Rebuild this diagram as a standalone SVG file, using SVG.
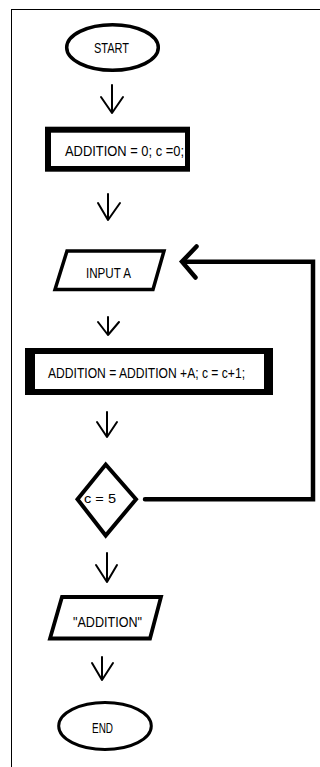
<svg xmlns="http://www.w3.org/2000/svg" width="320" height="767" viewBox="0 0 320 767">
<style>
.t{font-family:"Liberation Sans",Arial,sans-serif;font-size:15px;fill:#000}
.s{fill:#fff;stroke:#000;stroke-linejoin:miter}
.a{fill:none;stroke:#000;stroke-width:2;stroke-linecap:round;stroke-linejoin:round}
.loop{fill:none;stroke:#000;stroke-width:4.5;stroke-linecap:round;stroke-linejoin:miter}
</style>
<rect x="0" y="0" width="320" height="767" fill="#fff"/>
<rect x="11.5" y="9.5" width="400" height="800" fill="none" stroke="#000" stroke-width="1"/>
<g id="connectors">
<path class="a" d="M112,85 V113 M101,97 L112,113 L123,97"/>
<path class="a" d="M108,194 V220 M98,203 L108,220 L120,203"/>
<path class="a" d="M108,317 V335 M98,322 L108,335 L119,322"/>
<path class="a" d="M107,412 V437 M97,422 L107,437 L117,422"/>
<path class="a" d="M107,553 V582 M96,565 L107,582 L117,565"/>
<path class="a" d="M102,657 V680 M92,663 L102,680 L113,663"/>
<polyline class="loop" points="145,499.3 313,499.3 313,261.7 183,261.7"/>
<polyline class="loop" points="196.5,246.5 182,261.7 195.5,277.5"/>
</g>
<g id="start">
<ellipse class="s" cx="112.5" cy="47.5" rx="45.8" ry="22.8" stroke-width="3.5"/>
<text class="t" x="94" y="52.5" textLength="35" lengthAdjust="spacingAndGlyphs">START</text>
</g>
<g id="init">
<rect x="45" y="126.7" width="145" height="45" fill="#000"/>
<rect x="51" y="132.7" width="134" height="33.3" fill="#fff"/>
<text class="t" x="65" y="155.5" textLength="119" lengthAdjust="spacingAndGlyphs">ADDITION = 0; c =0;</text>
</g>
<g id="input">
<polygon class="s" points="67,251 164,251 153,289.5 55,289.5" stroke-width="3.5"/>
<text class="t" x="86" y="278" textLength="45" lengthAdjust="spacingAndGlyphs">INPUT A</text>
</g>
<g id="process">
<rect x="25" y="348" width="248" height="47" fill="#000"/>
<rect x="35" y="354" width="229" height="35" fill="#fff"/>
<text class="t" x="48" y="377.5" textLength="197" lengthAdjust="spacingAndGlyphs">ADDITION = ADDITION +A; c = c+1;</text>
</g>
<g id="decision">
<polygon class="s" points="105.7,464.5 136,499.3 105.7,535.5 77.5,499.3" stroke-width="4"/>
<text class="t" x="84" y="503" textLength="32" lengthAdjust="spacingAndGlyphs" style="font-size:12.5px">c = 5</text>
</g>
<g id="output">
<polygon class="s" points="62,597 161,597 150,638.5 50,638.5" stroke-width="3.8"/>
<text class="t" x="73" y="627" textLength="69" lengthAdjust="spacingAndGlyphs">"ADDITION"</text>
</g>
<g id="end">
<ellipse class="s" cx="105" cy="726" rx="46.3" ry="23.5" stroke-width="3"/>
<text class="t" x="92" y="733" textLength="21" lengthAdjust="spacingAndGlyphs">END</text>
</g>
</svg>
